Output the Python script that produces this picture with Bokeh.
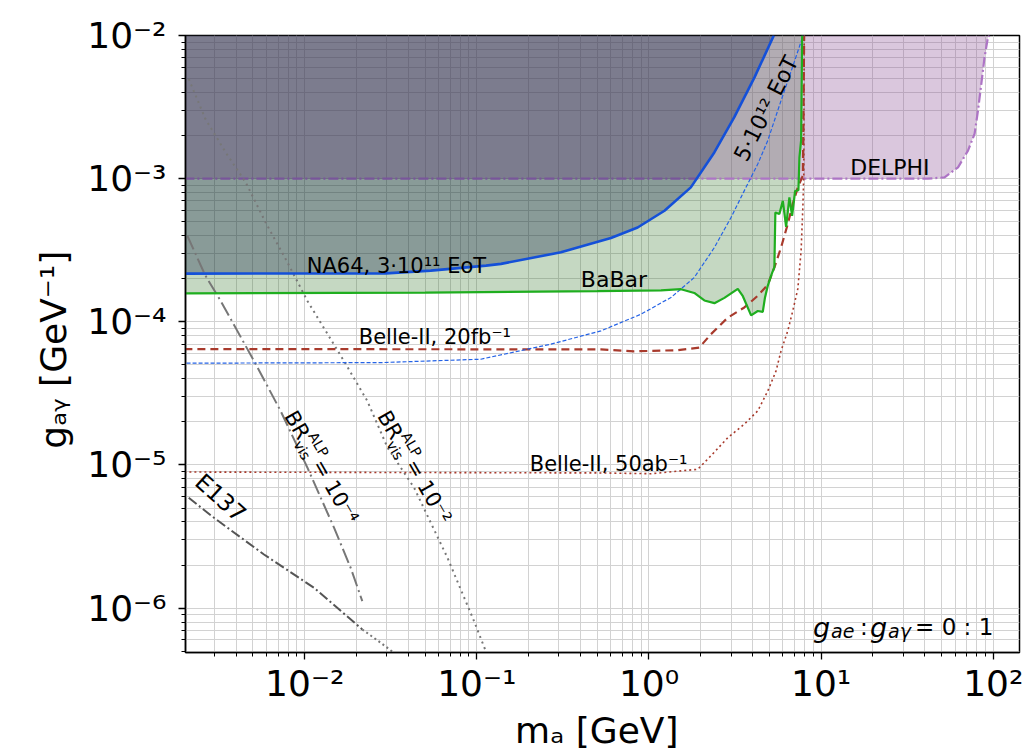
import math
from bokeh.plotting import figure
from bokeh.models import FixedTicker, CustomJSTickFormatter, Range1d
from bokeh.core.properties import value
from bokeh.embed import file_html
from bokeh.resources import INLINE

# ---------------- data ----------------
# NA64, 3e11 EoT (solid blue, filled above)
na64_m = [0.002, 0.0296, 0.054, 0.113, 0.138, 0.308, 0.601, 0.859, 1.23, 1.75, 2.4, 3.13, 4.1, 5.31]
na64_g = [2.17e-4, 2.18e-4, 2.28e-4, 2.47e-4, 2.54e-4, 3.06e-4, 3.85e-4, 4.56e-4, 5.97e-4, 8.69e-4,
          1.53e-3, 2.69e-3, 5.1e-3, 1.0e-2]
# NA64 projection, 5e12 EoT (thin dashed blue)
na64p_m = [0.0019, 0.0277, 0.1055, 0.269, 0.526, 0.898, 1.342, 1.833, 2.4, 3.0, 3.58, 4.29, 4.9, 5.85, 6.87, 7.86]
na64p_g = [5.14e-5, 5.19e-5, 5.48e-5, 6.98e-5, 8.65e-5, 1.13e-4, 1.48e-4, 2.04e-4, 3.31e-4, 5.37e-4,
           8.25e-4, 1.27e-3, 1.85e-3, 3.51e-3, 6.17e-3, 1.0e-2]
# BaBar (green, filled above)
babar_m = [0.002, 0.05, 0.5, 1.174, 1.535, 1.833, 2.097, 2.399, 2.742, 3.28, 3.51, 3.918, 4.285, 4.58,
           4.72, 4.9, 5.19, 5.35, 5.42, 5.72, 5.99, 6.26, 6.54, 6.78, 7.06, 7.38, 7.48, 7.65, 7.76]
babar_g = [1.58e-4, 1.6e-4, 1.64e-4, 1.66e-4, 1.69e-4, 1.59e-4, 1.41e-4, 1.35e-4, 1.47e-4, 1.70e-4,
           1.51e-4, 1.11e-4, 1.19e-4, 1.175e-4, 1.48e-4, 1.79e-4, 2.2e-4, 2.4e-4, 5.8e-4, 5.66e-4,
           7.0e-4, 4.6e-4, 7.4e-4, 5.5e-4, 8.2e-4, 8.3e-4, 1.41e-3, 1.85e-3, 1.0e-2]
# Belle-II 20 fb^-1 (dashed brown)
belle20_m = [0.002, 0.526, 0.818, 1.468, 1.96, 2.29, 2.87, 3.58, 4.285, 4.9, 5.35, 5.85, 6.40, 6.84,
             7.32, 7.83, 7.97]
belle20_g = [6.45e-5, 6.42e-5, 6.22e-5, 6.34e-5, 6.61e-5, 8.2e-5, 1.07e-4, 1.26e-4, 1.52e-4, 1.82e-4,
             2.4e-4, 3.31e-4, 4.82e-4, 6.65e-4, 8.69e-4, 1.05e-3, 1.0e-2]
# Belle-II 50 ab^-1 (dotted brown)
belle50_m = [0.002, 0.526, 1.027, 1.92, 2.29, 2.87, 3.58, 4.285, 4.9, 5.47, 5.85, 6.40, 6.84, 7.32,
             7.65, 7.83, 7.93, 7.97]
belle50_g = [8.93e-6, 8.8e-6, 8.69e-6, 9.33e-6, 1.16e-5, 1.55e-5, 1.93e-5, 2.39e-5, 3.29e-5, 4.54e-5,
             6.27e-5, 8.65e-5, 1.19e-4, 1.70e-4, 3.14e-4, 6.3e-4, 1.08e-3, 1.0e-2]
# DELPHI (purple dash-dot, filled above)
delphi_m = [0.002, 41.7, 52.1, 62.4, 71.3, 77.9, 81.5, 85.2, 89.0, 93.1, 95.0]
delphi_g = [1e-3, 1e-3, 1.02e-3, 1.2e-3, 1.57e-3, 2.06e-3, 2.99e-3, 4.6e-3, 7.05e-3, 9.7e-3, 1.0e-2]
# BR_vis^ALP = 1e-2 (dotted gray)
br2_m = [0.00212, 0.00265, 0.00347, 0.00454, 0.00593, 0.00776, 0.01037, 0.0169, 0.0231, 0.0303,
         0.0432, 0.0675, 0.0964, 0.1127]
br2_g = [4.97e-3, 2.61e-3, 1.53e-3, 9.42e-4, 4.94e-4, 2.74e-4, 1.40e-4, 5.33e-5, 2.8e-5, 1.32e-5,
         6.94e-6, 2.25e-6, 8.1e-7, 5.0e-7]
# BR_vis^ALP = 1e-4 (long dash-dot gray)
br4_m = [0.00208, 0.00265, 0.00325, 0.00507, 0.00724, 0.01037, 0.0148, 0.0185, 0.0216]
br4_g = [3.99e-4, 2.10e-4, 1.40e-4, 5.34e-5, 2.39e-5, 9.57e-6, 3.65e-6, 1.91e-6, 1.12e-6]
# E137 (dash-dot dark gray, then dotted)
e137_m = [0.00212, 0.00297, 0.0058, 0.0113, 0.0216]
e137_g = [5.9e-6, 4.28e-6, 2.37e-6, 1.39e-6, 7.1e-7]
e137x_m = [0.0216, 0.0277, 0.033]
e137x_g = [7.1e-7, 5.72e-7, 4.87e-7]

# axes
x_tick_values = [1e-2, 1e-1, 1e0, 1e1, 1e2]
x_tick_labels = ["10\u207b\u00b2", "10\u207b\u00b9", "10\u2070", "10\u00b9", "10\u00b2"]
y_tick_values = [1e-6, 1e-5, 1e-4, 1e-3, 1e-2]
y_tick_labels = ["10\u207b\u2076", "10\u207b\u2075", "10\u207b\u2074", "10\u207b\u00b3", "10\u207b\u00b2"]
x_label = "m\u2090  [GeV]"
y_label = "g\u2090\u1d67  [GeV\u207b\u00b9]"
G_TOP = 1e-2

FONT = value("DejaVu Sans")

p = figure(width=1024, height=756, x_axis_type="log", y_axis_type="log",
           x_range=Range1d(2.03e-3, 142), y_range=Range1d(4.9e-7, 1e-2),
           output_backend="svg", toolbar_location=None,
           min_border_left=185, min_border_right=5, min_border_top=35, min_border_bottom=104)

# ticks
def minors(lo, hi):
    out = []
    for e in range(lo, hi + 1):
        for k in range(2, 10):
            out.append(k * 10.0 ** e)
    return out

xt = FixedTicker(ticks=x_tick_values, minor_ticks=minors(-3, 2))
yt = FixedTicker(ticks=y_tick_values, minor_ticks=minors(-7, -3))
fmt_code = """
const i = tvals.findIndex(t => Math.abs(Math.log10(t) - Math.log10(tick)) < 1e-6);
return i >= 0 ? tlabels[i] : "";
"""
p.xaxis.ticker = xt
p.yaxis.ticker = yt
p.xgrid.ticker = xt
p.ygrid.ticker = yt
p.xaxis.formatter = CustomJSTickFormatter(args=dict(tvals=x_tick_values, tlabels=x_tick_labels), code=fmt_code)
p.yaxis.formatter = CustomJSTickFormatter(args=dict(tvals=y_tick_values, tlabels=y_tick_labels), code=fmt_code)

for ax in (p.xaxis[0], p.yaxis[0]):
    ax.major_label_text_font = "DejaVu Sans"
    ax.major_label_text_font_size = "36px"
    ax.major_label_text_color = "black"
    ax.axis_label_text_font = "DejaVu Sans"
    ax.axis_label_text_font_size = "36px"
    ax.axis_label_text_font_style = "normal"
    ax.axis_label_text_color = "black"
    ax.axis_line_color = "black"
    ax.axis_line_width = 1.5
    ax.major_tick_line_color = "black"
    ax.minor_tick_line_color = "black"
    ax.major_tick_line_width = 1.3
    ax.major_tick_in = 0
    ax.major_tick_out = 7
    ax.minor_tick_in = 0
    ax.minor_tick_out = 4
p.xaxis.axis_label = x_label
p.yaxis.axis_label = y_label
p.xaxis.major_label_standoff = 3
p.yaxis.major_label_standoff = 12
p.xaxis.axis_label_standoff = 3
p.yaxis.axis_label_standoff = 10

p.grid.grid_line_color = "#d2d2d2"
p.grid.minor_grid_line_color = "#d2d2d2"
p.grid.grid_line_width = 1
p.outline_line_color = "black"
p.outline_line_width = 1.5
p.background_fill_color = "white"
p.border_fill_color = "white"

# ---------------- fills ----------------
p.varea(x=babar_m, y1=babar_g, y2=[G_TOP] * len(babar_m), fill_color="#286e1e", fill_alpha=0.27)
p.varea(x=delphi_m, y1=delphi_g, y2=[G_TOP] * len(delphi_m), fill_color="#8c5096", fill_alpha=0.32)
p.line(delphi_m, delphi_g, line_color="#ad74c5", line_width=2.2, line_dash="10 3 2 3")
p.varea(x=na64_m, y1=na64_g, y2=[G_TOP] * len(na64_m), fill_color="#000d39", fill_alpha=0.3)

# ---------------- lines ----------------
p.line(br2_m, br2_g, line_color="#777777", line_width=2, line_dash="2 4")
p.line(br4_m, br4_g, line_color="#777777", line_width=2, line_dash="15 4 2 4")
p.line(e137_m, e137_g, line_color="#555555", line_width=2, line_dash="10 3 2 3")
p.line(e137x_m, e137x_g, line_color="#777777", line_width=2, line_dash="2 3")
p.line(belle50_m, belle50_g, line_color="#a83a2c", line_width=1.6, line_dash="2 3")
p.line(belle20_m, belle20_g, line_color="#a83a2c", line_width=2.2, line_dash="8 5")
p.line(na64p_m, na64p_g, line_color="#2563e6", line_width=1.2, line_dash="4 2")
p.line(babar_m, babar_g, line_color="#1fae1f", line_width=2.2)
p.line(na64_m, na64_g, line_color="#1450d8", line_width=2.6)

# ---------------- annotations ----------------
def rich(x, y, pieces, angle_deg=0.0, align="left", baseline="middle"):
    th = math.radians(angle_deg)
    for t, size, d, h, style in pieces:
        xo = d * math.cos(th) - h * math.sin(th)
        yo = -d * math.sin(th) - h * math.cos(th)
        p.text(x=[x], y=[y], text=[t], angle=th, x_offset=xo, y_offset=yo,
               text_font=FONT, text_font_size=f"{size}px", text_font_style=style,
               text_align=align, text_baseline=baseline, text_color="black")

rich(0.01028, 2.47e-4, [("NA64, 3\u00b710\u00b9\u00b9 EoT", 21, 0, 0, "normal")], baseline="alphabetic")
rich(0.402, 1.96e-4, [("BaBar", 22, 0, 0, "normal")], baseline="alphabetic")
rich(0.0206, 7.85e-5, [("Belle-II, 20fb\u207b\u00b9", 21, 0, 0, "normal")], baseline="alphabetic")
rich(0.203, 1.01e-5, [("Belle-II, 50ab\u207b\u00b9", 21, 0, 0, "normal")], baseline="alphabetic")
rich(14.75, 1.19e-3, [("DELPHI", 22, 0, 0, "normal")], baseline="alphabetic")
rich(4.79, 3.09e-3, [("5\u00b710\u00b9\u00b2 EoT", 22, 0, 0, "normal")], angle_deg=63, align="center")
rich(3.25e-3, 5.9e-6, [("E137", 23, 0, 0, "normal")], angle_deg=-42, align="center")
for bx, lab in ((0.0124, "= 10\u207b\u2074"), (0.043, "= 10\u207b\u00b2")):
    rich(bx, 9.8e-6, [("BR", 21, -62, 0, "normal"),
                      ("ALP", 14, -33, 9, "normal"),
                      ("vis", 14, -33, -8, "normal"),
                      (lab, 21, -6, 0, "normal")], angle_deg=-60)
rich(8.98, 7.36e-7, [("g", 27, 0, 0, "italic"),
                     ("ae", 19, 18, -4, "italic"),
                     (":", 23, 47, 0, "normal"),
                     ("g", 27, 57, 0, "italic"),
                     ("a\u03b3", 19, 75, -4, "italic"),
                     ("= 0 : 1", 23, 102, 0, "normal")], baseline="alphabetic")

open("out.html", "w").write(file_html(p, INLINE))
